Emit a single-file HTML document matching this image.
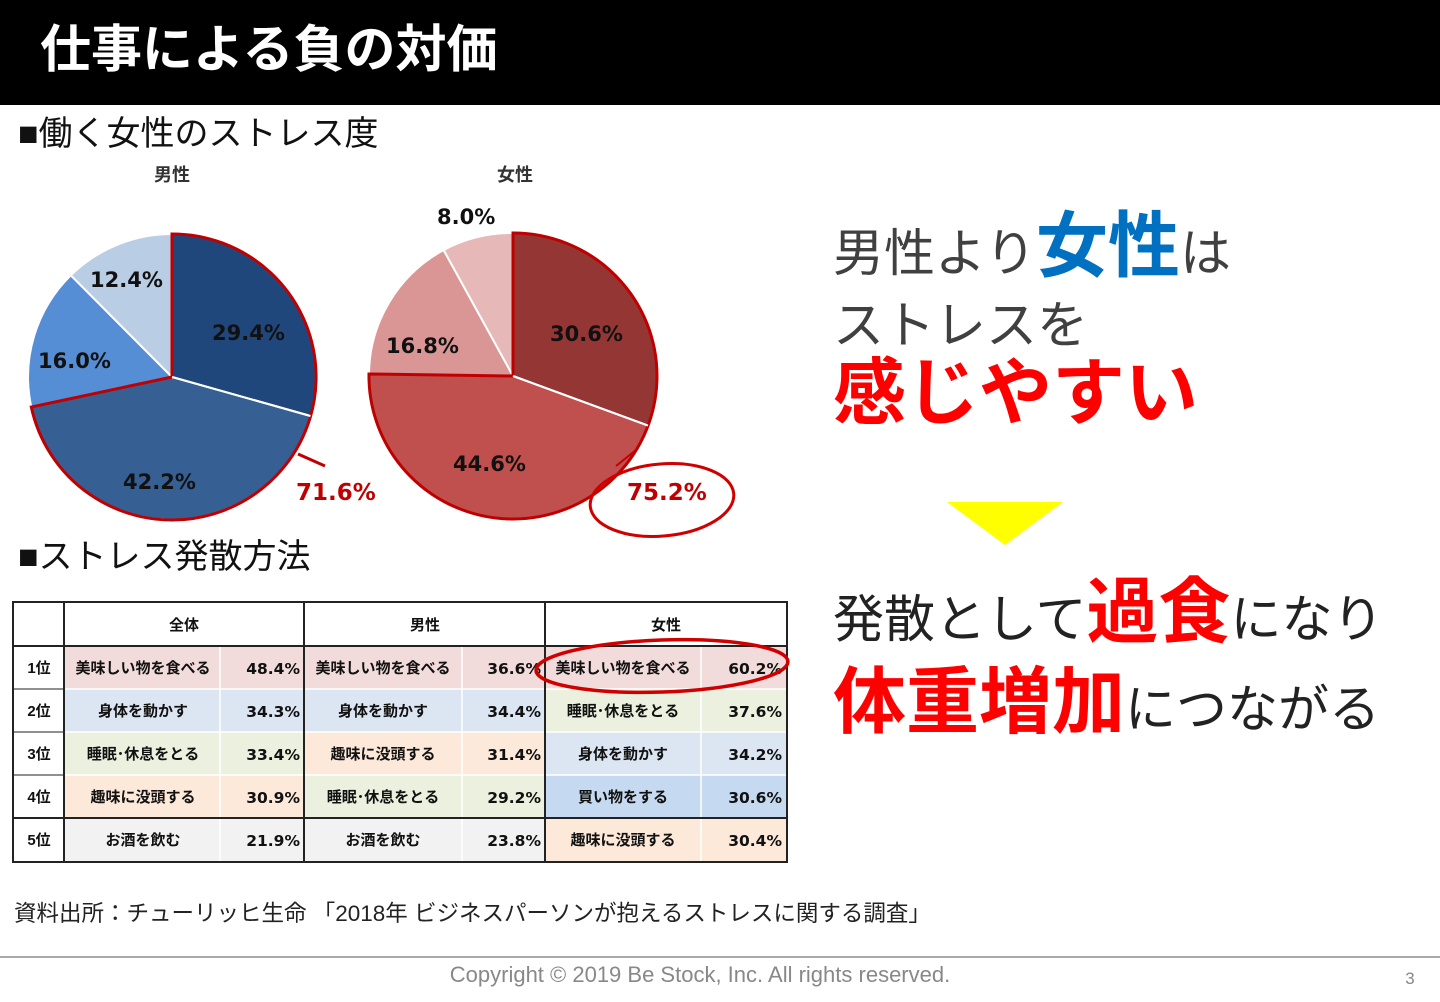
<!DOCTYPE html><html><head><meta charset="utf-8"><style>
body{margin:0;width:1440px;height:997px;overflow:hidden;background:#fff;font-family:"Liberation Sans","Noto Sans CJK JP",sans-serif}
svg text{font-family:"Liberation Sans","Noto Sans CJK JP",sans-serif}
svg .dv text{font-family:"DejaVu Sans",sans-serif}
</style></head><body>
<svg width="1440" height="997" viewBox="0 0 1440 997" xmlns="http://www.w3.org/2000/svg">
<rect x="0" y="0" width="1440" height="105" fill="#000"/>
<text x="40" y="67" font-size="51" font-weight="bold" fill="#fff">仕事による負の対価</text>
<text x="18" y="145" font-size="34" fill="#111">■働く女性のストレス度</text>
<text x="18" y="568" font-size="34" fill="#111">■ストレス発散方法</text>
<g font-size="18" font-weight="bold" fill="#333" text-anchor="middle"><text x="172" y="181">男性</text><text x="515" y="181">女性</text></g>
<g stroke="#fff" stroke-width="2">
<path d="M172,377 L172,234 A144,143 0 0 1 310.5,416 Z" fill="#1f477c"/>
<path d="M172,377 L310.5,416 A144,143 0 0 1 31.3,407 Z" fill="#365f94"/>
<path d="M172,377 L31.3,407 A144,143 0 0 1 70.8,275.3 Z" fill="#558ed5"/>
<path d="M172,377 L70.8,275.3 A144,143 0 0 1 172,234 Z" fill="#b9cde5"/>
</g>
<path d="M172,377 L172,234 A144,143 0 1 1 31.3,407 Z" fill="none" stroke="#c00000" stroke-width="3"/>
<line x1="172" y1="377" x2="310.5" y2="416" stroke="#fff" stroke-width="2"/>
<g stroke="#fff" stroke-width="2">
<path d="M513,376 L513,233 A144,143 0 0 1 648,425.6 Z" fill="#943634"/>
<path d="M513,376 L648,425.6 A144,143 0 0 1 369,374 Z" fill="#c0504d"/>
<path d="M513,376 L369,374 A144,143 0 0 1 443.6,250 Z" fill="#d99694"/>
<path d="M513,376 L443.6,250 A144,143 0 0 1 513,233 Z" fill="#e6b9b8"/>
</g>
<path d="M513,376 L513,233 A144,143 0 1 1 369,374 Z" fill="none" stroke="#c00000" stroke-width="3"/>
<line x1="513" y1="376" x2="648" y2="425.6" stroke="#fff" stroke-width="2"/>
<g class="dv" font-size="21" font-weight="bold" fill="#111">
<text x="90" y="287">12.4%</text><text x="212" y="340">29.4%</text><text x="38" y="368">16.0%</text><text x="123" y="489">42.2%</text>
<text x="437" y="224">8.0%</text><text x="550" y="341">30.6%</text><text x="386" y="353">16.8%</text><text x="453" y="471">44.6%</text>
</g>
<g class="dv" font-size="23" font-weight="bold" fill="#c00000"><text x="296" y="500">71.6%</text><text x="627" y="500">75.2%</text></g>
<line x1="298" y1="454" x2="325" y2="466" stroke="#c00000" stroke-width="3"/>
<line x1="636" y1="450" x2="616" y2="466" stroke="#c00000" stroke-width="2"/>
<ellipse cx="662" cy="500" rx="72" ry="36" fill="none" stroke="#d00000" stroke-width="3" transform="rotate(-5 662 500)"/>
<g>
<rect x="13" y="602" width="774" height="260" fill="#fff"/>
<g>
<rect x="64" y="646" width="240" height="43" fill="#f2dcdb"/><rect x="304" y="646" width="241" height="43" fill="#f2dcdb"/><rect x="545" y="646" width="242" height="43" fill="#f2dcdb"/>
<rect x="64" y="689" width="240" height="43" fill="#dce6f2"/><rect x="304" y="689" width="241" height="43" fill="#dce6f2"/><rect x="545" y="689" width="242" height="43" fill="#ebf1de"/>
<rect x="64" y="732" width="240" height="43" fill="#ebf1de"/><rect x="304" y="732" width="241" height="43" fill="#fde9d9"/><rect x="545" y="732" width="242" height="43" fill="#dce6f2"/>
<rect x="64" y="775" width="240" height="43" fill="#fde9d9"/><rect x="304" y="775" width="241" height="43" fill="#ebf1de"/><rect x="545" y="775" width="242" height="43" fill="#c5d9f1"/>
<rect x="64" y="818" width="240" height="44" fill="#f2f2f2"/><rect x="304" y="818" width="241" height="44" fill="#f2f2f2"/><rect x="545" y="818" width="242" height="44" fill="#fde9d9"/>
</g>
<g stroke="#fff" stroke-width="1.5">
<line x1="220" y1="646" x2="220" y2="862"/><line x1="462" y1="646" x2="462" y2="862"/><line x1="701" y1="646" x2="701" y2="862"/>
<line x1="64" y1="689" x2="787" y2="689"/><line x1="64" y1="732" x2="787" y2="732"/><line x1="64" y1="775" x2="787" y2="775"/>
</g>
<g stroke="#222" stroke-width="2" fill="none">
<rect x="13" y="602" width="774" height="260"/>
<line x1="64" y1="602" x2="64" y2="862"/><line x1="304" y1="602" x2="304" y2="862"/><line x1="545" y1="602" x2="545" y2="862"/>
<line x1="13" y1="646" x2="787" y2="646"/><line x1="13" y1="818" x2="787" y2="818"/>
</g>
<g stroke="#222" stroke-width="1">
<line x1="13" y1="689" x2="64" y2="689"/><line x1="13" y1="732" x2="64" y2="732"/><line x1="13" y1="775" x2="64" y2="775"/>
</g>
<g font-size="15" font-weight="bold" fill="#111" text-anchor="middle">
<text x="184" y="630">全体</text><text x="425" y="630">男性</text><text x="666" y="630">女性</text>
<text x="39" y="673">1位</text><text x="39" y="716">2位</text><text x="39" y="759">3位</text><text x="39" y="802">4位</text><text x="39" y="845">5位</text>
<text x="143" y="673">美味しい物を食べる</text><text x="383" y="673">美味しい物を食べる</text><text x="623" y="673">美味しい物を食べる</text>
<text x="143" y="716">身体を動かす</text><text x="383" y="716">身体を動かす</text><text x="623" y="716">睡眠･休息をとる</text>
<text x="143" y="759">睡眠･休息をとる</text><text x="383" y="759">趣味に没頭する</text><text x="623" y="759">身体を動かす</text>
<text x="143" y="802">趣味に没頭する</text><text x="383" y="802">睡眠･休息をとる</text><text x="623" y="802">買い物をする</text>
<text x="143" y="845">お酒を飲む</text><text x="383" y="845">お酒を飲む</text><text x="623" y="845">趣味に没頭する</text>
</g>
<g class="dv" font-size="15.5" font-weight="bold" fill="#111" text-anchor="end">
<text x="300" y="674">48.4%</text><text x="541" y="674">36.6%</text><text x="782" y="674">60.2%</text>
<text x="300" y="717">34.3%</text><text x="541" y="717">34.4%</text><text x="782" y="717">37.6%</text>
<text x="300" y="760">33.4%</text><text x="541" y="760">31.4%</text><text x="782" y="760">34.2%</text>
<text x="300" y="803">30.9%</text><text x="541" y="803">29.2%</text><text x="782" y="803">30.6%</text>
<text x="300" y="846">21.9%</text><text x="541" y="846">23.8%</text><text x="782" y="846">30.4%</text>
</g>
<ellipse cx="662" cy="666" rx="126" ry="26" fill="none" stroke="#d00000" stroke-width="3.5" transform="rotate(-2 662 666)"/>
</g>
<text x="833" y="271" font-size="51" fill="#404040">男性より<tspan font-size="72" font-weight="bold" fill="#0070c0">女性</tspan>は</text>
<text x="833" y="343" font-size="51" fill="#404040">ストレスを</text>
<text x="833" y="418" font-size="73" font-weight="bold" fill="#ff0000">感じやすい</text>
<polygon points="947,502 1063,502 1005,545" fill="#ffff00"/>
<text x="833" y="637" font-size="51" fill="#222">発散として<tspan font-size="72" font-weight="bold" fill="#ff0000">過食</tspan>になり</text>
<text x="833" y="727" font-size="73" font-weight="bold" fill="#ff0000">体重増加<tspan font-size="51" font-weight="normal" fill="#222">につながる</tspan></text>
<text x="14" y="921" font-size="22.5" fill="#222">資料出所：チューリッヒ生命 「2018年 ビジネスパーソンが抱えるストレスに関する調査」</text>
<line x1="0" y1="957" x2="1440" y2="957" stroke="#555" stroke-width="1"/>
<text x="700" y="982" font-size="22" fill="#888" text-anchor="middle">Copyright © 2019 Be Stock, Inc. All rights reserved.</text>
<text x="1410" y="984" font-size="17" fill="#888" text-anchor="middle">3</text>
</svg>
</body></html>
